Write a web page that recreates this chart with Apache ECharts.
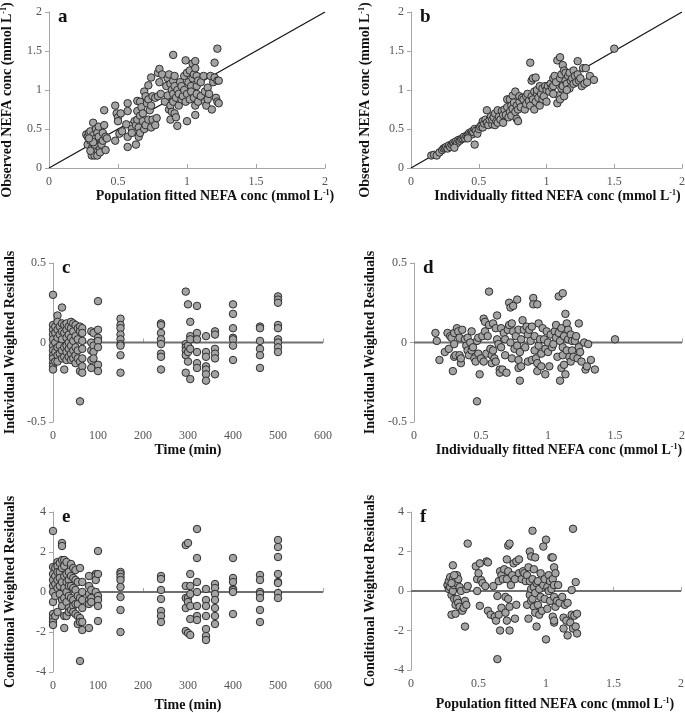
<!DOCTYPE html>
<html><head><meta charset="utf-8">
<script src="https://cdn.jsdelivr.net/npm/echarts@6/dist/echarts.min.js"></script>
<style>html,body{margin:0;padding:0;background:#fff}#c{width:685px;height:713px}</style>
</head><body><div id="c"></div>
<script>
// ---------- DATA ----------
const identityLine = [[0, 0], [2, 2]];

// a: population fitted vs observed NEFA
const panelA = [
[0.27,0.43],[0.28,0.40],[0.28,0.30],[0.29,0.45],[0.30,0.35],[0.30,0.47],[0.31,0.25],[0.31,0.16],[0.32,0.58],[0.32,0.42],[0.33,0.30],[0.33,0.16],[0.34,0.50],[0.34,0.38],[0.35,0.45],[0.35,0.16],[0.36,0.40],[0.36,0.53],[0.37,0.25],[0.37,0.20],[0.38,0.33],[0.38,0.30],[0.39,0.45],[0.39,0.35],[0.40,0.74],[0.40,0.55],[0.41,0.23],[0.41,0.40],[0.42,0.38],[0.30,0.22],[0.32,0.33],[0.29,0.38],
[0.48,0.80],[0.49,0.70],[0.50,0.65],[0.50,0.60],[0.51,0.44],[0.52,0.70],[0.53,0.47],[0.48,0.35],[0.56,0.56],[0.57,0.83],[0.57,0.73],[0.57,0.40],[0.57,0.27],[0.60,0.50],[0.60,0.45],
[0.62,0.60],[0.63,0.55],[0.63,0.30],[0.64,0.86],[0.64,0.73],[0.64,0.62],[0.65,0.52],[0.65,0.40],[0.66,0.85],[0.66,0.67],[0.66,0.45],[0.67,0.78],[0.68,0.70],[0.68,0.60],[0.69,0.98],[0.69,0.50],[0.70,0.92],[0.70,0.55],[0.71,0.83],[0.72,0.88],[0.72,1.06],[0.72,0.62],[0.73,0.74],[0.74,1.16],[0.74,0.80],[0.74,0.52],[0.75,0.62],[0.75,0.92],[0.77,0.90],[0.77,0.55],[0.78,0.64],[0.79,0.92],[0.79,1.22],[0.80,1.27],[0.80,1.10],[0.81,0.95],[0.82,1.20],
[0.84,0.85],[0.85,1.05],[0.86,1.15],[0.86,0.93],[0.87,0.75],[0.87,1.20],[0.88,1.08],[0.88,0.62],[0.88,0.80],[0.89,1.00],[0.89,0.72],[0.90,1.45],[0.90,1.12],[0.90,0.95],[0.90,0.85],[0.91,1.18],[0.91,0.70],[0.91,1.05],[0.92,0.65],[0.92,0.90],[0.93,1.00],[0.93,0.54],[0.94,0.80],[0.94,0.95],[0.95,1.10],[0.96,0.88],[0.96,1.05],[0.97,0.92],[0.98,1.18],[0.98,1.00],[0.99,1.38],[0.99,0.85],[1.00,0.60],[1.00,1.22],[1.00,0.95],[1.01,1.10],[1.02,0.88],[1.02,1.25],[1.03,1.05],[1.03,0.98],[1.04,1.34],[1.04,1.15],[1.05,1.20],[1.05,0.90],[1.06,1.37],[1.06,1.28],[1.06,0.80],[1.06,0.68],[1.07,1.05],[1.07,1.18],[1.07,0.95],[1.08,1.12],[1.08,0.85],[1.10,1.10],[1.10,0.92],[1.12,1.18],[1.13,0.98],[1.13,0.85],[1.14,0.80],[1.15,1.03],[1.15,0.88],[1.16,0.95],[1.17,1.18],[1.18,0.75],[1.19,1.10],[1.20,1.35],[1.20,1.16],[1.21,0.90],[1.22,1.53],[1.22,1.12],[1.22,0.85],[1.23,1.12],[1.23,0.83]
];

// b: individually fitted vs observed NEFA
const panelB = [
[0.15,0.16],[0.17,0.17],[0.19,0.16],[0.21,0.20],[0.23,0.23],[0.24,0.25],[0.25,0.26],[0.26,0.27],[0.27,0.25],[0.28,0.29],[0.29,0.27],[0.30,0.30],[0.31,0.32],[0.32,0.31],[0.33,0.34],[0.34,0.32],[0.35,0.36],[0.36,0.35],[0.37,0.37],[0.38,0.38],[0.39,0.40],[0.40,0.38],[0.41,0.41],[0.42,0.43],[0.43,0.45],[0.44,0.44],[0.45,0.43],[0.45,0.47],[0.46,0.46],[0.47,0.30],[0.47,0.50],[0.48,0.48],[0.49,0.44],[0.50,0.50],[0.32,0.26],[0.42,0.38],
[0.51,0.53],[0.52,0.55],[0.53,0.60],[0.53,0.52],[0.54,0.57],[0.55,0.62],[0.56,0.74],[0.56,0.58],[0.57,0.55],[0.58,0.62],[0.59,0.66],[0.60,0.56],[0.60,0.62],[0.61,0.65],[0.62,0.70],[0.62,0.55],[0.63,0.60],[0.64,0.74],[0.64,0.58],[0.65,0.66],[0.66,0.62],[0.67,0.73],[0.68,0.68],[0.68,0.58],[0.69,0.75],[0.70,0.68],[0.71,0.88],[0.71,0.78],[0.72,0.65],[0.73,0.88],[0.73,0.72],[0.74,0.80],[0.74,0.67],[0.75,0.93],[0.75,0.76],[0.76,0.84],[0.77,0.98],[0.77,0.72],[0.78,0.80],[0.78,0.63],[0.79,0.60],[0.79,0.75],[0.80,0.85],[0.80,0.92],
[0.81,0.78],[0.82,0.90],[0.83,0.88],[0.84,0.75],[0.85,0.92],[0.85,0.82],[0.86,0.95],[0.87,0.86],[0.88,1.35],[0.88,0.80],[0.89,0.92],[0.89,1.12],[0.90,1.15],[0.90,0.88],[0.91,0.75],[0.91,0.98],[0.92,1.16],[0.92,0.85],[0.93,0.95],[0.93,1.00],[0.94,0.90],[0.95,1.05],[0.95,0.80],[0.96,0.95],[0.97,1.02],[0.97,0.88],[0.98,0.92],[0.99,1.05],[1.00,0.85],[1.00,1.00],[1.01,1.05],[1.02,0.98],[1.03,1.08],[1.04,1.03],[1.05,1.05],[1.05,1.15],
[1.06,1.18],[1.07,1.10],[1.08,1.38],[1.08,0.83],[1.09,0.93],[1.10,1.42],[1.10,1.15],[1.10,0.88],[1.11,1.02],[1.11,1.20],[1.12,1.05],[1.12,1.32],[1.13,1.25],[1.13,0.92],[1.14,1.12],[1.14,1.22],[1.15,1.08],[1.16,1.18],[1.17,1.02],[1.17,1.22],[1.18,1.12],[1.19,1.15],[1.20,1.08],[1.20,1.25],[1.21,1.18],[1.22,1.10],[1.23,1.37],[1.23,1.20],[1.24,1.12],[1.25,1.15],[1.26,1.05],[1.27,1.28],[1.28,1.08],[1.29,1.28],[1.30,1.10],[1.32,1.18],[1.35,1.13],[1.50,1.53],[1.05,0.95],[1.15,1.00]
];

// c: time vs individual weighted residuals
const panelC = [
[0,0.30],[0,0.11],[0,0.08],[0,0.05],[0,0.02],[0,-0.02],[0,-0.05],[0,-0.08],[0,-0.10],[0,-0.13],[0,-0.15],[0,-0.17],
[5,0.10],[5,0.06],[5,0.00],[5,-0.06],[5,-0.12],
[10,0.17],[10,0.13],[10,0.08],[10,0.03],[10,-0.03],[10,-0.08],[10,-0.12],
[15,0.10],[15,0.05],[15,-0.02],[15,-0.07],
[20,0.22],[20,0.12],[20,0.07],[20,0.02],[20,-0.05],[20,-0.10],
[25,0.11],[25,0.06],[25,-0.03],[25,-0.09],[25,-0.17],
[30,0.12],[30,0.08],[30,0.03],[30,-0.02],[30,-0.06],[30,-0.11],
[35,0.10],[35,0.05],[35,0.00],[35,-0.04],[35,-0.09],
[40,0.13],[40,0.09],[40,0.03],[40,-0.02],[40,-0.07],[40,-0.11],
[45,0.12],[45,0.07],[45,0.01],[45,-0.05],[45,-0.10],
[50,0.11],[50,0.04],[50,-0.03],[50,-0.08],[50,-0.13],
[55,0.09],[55,0.02],[55,-0.05],[55,-0.10],
[60,0.10],[60,0.07],[60,-0.12],[60,-0.18],[60,-0.37],
[65,0.09],[65,0.06],[65,0.01],[65,-0.04],[65,-0.10],[65,-0.15],[65,-0.19],
[85,0.07],[85,0.00],[85,-0.05],[85,-0.11],[85,-0.16],
[90,0.06],[90,-0.02],[90,-0.06],[90,-0.10],
[100,0.26],[100,0.08],[100,0.03],[100,0.01],[100,-0.03],[100,-0.14],[100,-0.18],
[150,0.15],[150,0.11],[150,0.09],[150,0.05],[150,0.02],[150,-0.01],[150,-0.02],[150,-0.08],[150,-0.19],
[240,0.12],[240,0.11],[240,0.06],[240,0.02],[240,-0.01],[240,-0.07],[240,-0.09],[240,-0.17],
[295,0.32],[295,-0.01],[295,-0.03],[295,-0.05],[295,-0.08],[295,-0.19],
[300,0.24],[300,-0.02],[300,-0.06],[300,-0.12],
[305,0.13],[305,0.04],[305,0.02],[305,-0.04],[305,-0.23],
[320,0.23],[320,0.06],[320,0.02],[320,-0.06],[320,-0.13],[320,-0.16],
[340,0.04],[340,-0.06],[340,-0.09],[340,-0.15],[340,-0.17],[340,-0.20],[340,-0.24],
[360,0.07],[360,0.05],[360,-0.04],[360,-0.07],[360,-0.10],[360,-0.20],
[400,0.24],[400,0.18],[400,0.09],[400,0.03],[400,0.02],[400,-0.02],[400,-0.11],
[460,0.10],[460,0.09],[460,0.01],[460,-0.04],[460,-0.08],[460,-0.16],
[500,0.29],[500,0.27],[500,0.25],[500,0.11],[500,0.09],[500,0.02],[500,0.00],[500,-0.03],[500,-0.06]
];

// d: individually fitted vs individual weighted residuals
const panelD = [
[0.16,0.06],[0.17,0.01],[0.19,-0.11],[0.23,-0.06],[0.25,0.06],[0.26,-0.04],[0.27,0.04],[0.28,0.03],[0.29,-0.18],[0.30,0.06],[0.30,-0.01],[0.30,-0.09],[0.31,-0.08],[0.32,0.09],[0.33,0.07],[0.34,0.03],[0.34,-0.08],[0.35,-0.13],[0.35,-0.10],[0.36,0.08],[0.38,0.02],[0.39,-0.02],[0.40,0.03],[0.40,-0.05],[0.41,-0.08],[0.42,0.00],[0.43,0.07],[0.43,-0.05],[0.44,-0.03],[0.45,-0.10],[0.46,-0.12],[0.47,-0.37],[0.47,0.01],[0.48,0.03],[0.48,-0.07],[0.49,-0.20],[0.50,-0.10],
[0.51,0.04],[0.52,0.15],[0.52,-0.12],[0.53,0.13],[0.53,0.07],[0.54,-0.07],[0.55,0.04],[0.56,0.32],[0.56,0.11],[0.57,-0.04],[0.58,-0.08],[0.58,-0.13],[0.59,0.12],[0.59,-0.05],[0.60,-0.10],[0.61,0.09],[0.61,-0.12],[0.62,0.17],[0.62,0.02],[0.63,-0.01],[0.64,-0.17],[0.64,-0.19],[0.65,0.09],[0.65,-0.03],[0.66,-0.17],[0.67,0.06],[0.68,0.02],[0.68,-0.08],[0.69,-0.19],[0.70,0.08],
[0.71,0.11],[0.71,0.25],[0.72,0.22],[0.72,0.00],[0.73,0.12],[0.73,-0.10],[0.74,0.07],[0.74,0.23],[0.75,-0.04],[0.76,0.04],[0.77,0.27],[0.77,-0.02],[0.78,0.08],[0.78,-0.11],[0.78,-0.16],[0.79,-0.06],[0.79,-0.24],[0.80,-0.15],[0.80,0.02],[0.81,0.14],[0.82,0.08],[0.83,-0.03],[0.84,0.10],[0.85,0.05],[0.85,-0.12],[0.86,0.08],[0.87,0.01],[0.88,0.10],[0.88,-0.11],[0.89,0.28],[0.89,0.24],[0.90,0.04],[0.90,-0.05],
[0.91,-0.10],[0.92,0.24],[0.92,-0.13],[0.92,-0.18],[0.93,0.12],[0.93,-0.02],[0.94,0.02],[0.95,-0.07],[0.95,-0.15],[0.96,0.09],[0.97,0.02],[0.98,-0.20],[0.98,-0.04],[0.99,0.07],[1.00,0.00],[1.00,-0.06],[1.01,-0.15],[1.02,0.05],[1.03,-0.03],[1.04,-0.01],[1.05,0.07],[1.06,0.11],[1.06,0.03],[1.07,-0.09],[1.08,0.29],[1.08,0.06],[1.09,-0.24],[1.09,0.01],[1.10,-0.16],[1.10,0.09],
[1.11,0.31],[1.11,-0.03],[1.11,-0.08],[1.12,0.04],[1.12,-0.14],[1.13,-0.20],[1.13,0.18],[1.14,0.12],[1.14,-0.05],[1.15,0.08],[1.15,0.02],[1.16,-0.09],[1.17,0.05],[1.17,-0.12],[1.18,-0.05],[1.18,0.01],[1.19,-0.09],[1.20,0.01],[1.21,0.04],[1.22,-0.10],[1.23,0.12],[1.23,-0.03],[1.24,-0.06],[1.25,-0.12],[1.27,0.00],[1.28,-0.17],[1.29,-0.15],[1.30,-0.01],[1.32,-0.11],[1.35,-0.17],[1.50,0.02]
];

// e: time vs conditional weighted residuals
const panelE = [
[0,3.05],[0,1.25],[0,0.9],[0,0.6],[0,0.3],[0,0.0],[0,-0.5],[0,-1.1],[0,-1.3],[0,-1.5],[0,-1.65],
[5,1.2],[5,0.8],[5,0.4],[5,-0.2],[5,-1.2],
[10,1.5],[10,1.3],[10,1.0],[10,0.6],[10,0.2],[10,-1.0],
[15,1.45],[15,1.0],[15,0.7],[15,0.3],[15,-0.1],
[20,2.45],[20,2.3],[20,1.6],[20,1.2],[20,0.5],[20,-0.4],[20,-0.7],
[25,1.6],[25,1.3],[25,0.8],[25,0.2],[25,-0.3],[25,-1.2],[25,-1.8],
[30,1.5],[30,0.9],[30,0.5],[30,0.0],[30,-0.5],[30,-1.2],
[35,1.0],[35,0.6],[35,0.3],[35,-0.2],[35,-0.8],[35,-1.0],
[40,1.4],[40,0.8],[40,0.3],[40,-0.3],[40,-0.9],
[45,1.2],[45,0.7],[45,0.2],[45,-0.4],[45,-0.7],[45,-1.0],
[50,1.1],[50,0.6],[50,0.1],[50,-0.6],[50,-1.1],
[55,0.5],[55,-0.2],[55,-0.6],[55,-1.2],[55,-1.6],
[60,1.2],[60,-0.3],[60,-1.3],[60,-1.5],[60,-3.45],
[65,0.5],[65,0.0],[65,-0.4],[65,-0.8],[65,-1.5],[65,-1.9],
[80,0.8],[80,0.3],[80,-0.1],[80,-0.4],[80,-0.6],[80,-1.8],
[85,0.1],[85,-0.3],[85,-0.5],
[95,0.9],[95,0.8],[95,0.6],[95,0.0],
[100,2.05],[100,0.9],[100,-0.2],[100,-0.4],[100,-0.7],[100,-1.45],
[150,1.0],[150,0.9],[150,0.75],[150,0.6],[150,0.25],[150,-0.25],[150,-0.9],[150,-2.0],
[240,0.8],[240,0.65],[240,0.1],[240,-0.35],[240,-0.95],[240,-1.2],[240,-1.5],
[295,2.35],[295,0.3],[295,-0.3],[295,-0.8],[295,-1.95],
[300,2.45],[300,-0.3],[300,-0.5],[300,-2.05],
[305,0.9],[305,0.3],[305,-0.1],[305,-0.7],[305,-1.35],[305,-2.15],
[320,3.15],[320,1.7],[320,0.5],[320,0.0],[320,-0.7],[320,-1.2],[320,-1.4],
[340,0.15],[340,-0.4],[340,-0.7],[340,-1.2],[340,-1.85],[340,-2.2],[340,-2.4],
[360,0.4],[360,0.2],[360,-0.1],[360,-0.4],[360,-0.8],[360,-1.2],[360,-1.6],
[400,1.7],[400,0.7],[400,0.5],[400,0.15],[400,0.1],[400,0.0],[400,-1.1],
[460,0.85],[460,0.6],[460,0.0],[460,-0.1],[460,-0.3],[460,-0.9],[460,-1.5],
[500,2.6],[500,2.25],[500,1.75],[500,0.9],[500,0.5],[500,0.45],[500,-0.05],[500,-0.3]
];

// f: population fitted vs conditional weighted residuals
const panelF = [
[0.27,0.3],[0.28,0.5],[0.28,0.1],[0.29,0.7],[0.29,0.2],[0.30,-0.2],[0.30,-1.2],[0.31,0.6],[0.31,0.0],[0.31,1.3],[0.32,-0.4],[0.32,0.3],[0.33,-1.15],[0.33,-0.7],[0.34,0.4],[0.34,0.8],[0.34,-0.4],[0.35,0.6],[0.35,-0.6],[0.36,0.2],[0.36,-0.8],[0.37,0.0],[0.38,-1.0],[0.39,-0.85],[0.40,-1.8],[0.40,-0.5],[0.41,0.1],[0.41,-0.7],[0.42,2.4],[0.42,0.25],[0.30,0.4],[0.32,0.8],
[0.48,1.25],[0.49,0.0],[0.49,0.6],[0.50,0.9],[0.51,1.4],[0.51,-0.75],[0.52,0.55],[0.53,0.4],[0.55,0.25],[0.56,1.5],[0.57,1.45],[0.57,-1.0],[0.59,-1.2],[0.61,0.25],[0.62,-1.3],
[0.63,-1.5],[0.64,-3.45],[0.64,-0.25],[0.65,0.5],[0.65,-1.2],[0.66,1.0],[0.66,-2.0],[0.67,0.8],[0.67,-0.85],[0.68,0.6],[0.69,1.1],[0.70,-0.3],[0.70,-1.1],[0.71,1.6],[0.71,0.6],[0.71,-1.5],[0.72,2.3],[0.72,1.0],[0.72,-0.4],[0.73,2.4],[0.73,-0.8],[0.73,-2.0],[0.74,0.3],[0.75,0.8],[0.76,1.4],[0.77,0.6],[0.77,-1.4],[0.78,1.5],[0.78,-0.7],[0.80,1.6],[0.80,0.9],
[0.82,0.6],[0.83,1.0],[0.84,0.9],[0.85,0.5],[0.86,-0.7],[0.86,0.8],[0.87,1.2],[0.87,-1.4],[0.88,2.0],[0.88,-0.2],[0.88,0.5],[0.89,0.1],[0.89,-0.5],[0.89,1.75],[0.90,0.6],[0.90,-0.4],[0.90,3.05],[0.91,0.2],[0.91,-0.8],[0.91,1.1],[0.92,-0.1],[0.92,-1.1],[0.92,1.7],[0.93,0.4],[0.93,-1.8],[0.94,-0.7],[0.94,0.5],[0.95,-1.2],[0.95,0.1],[0.96,0.9],[0.96,-0.3],[0.97,-1.0],[0.98,0.3],[0.98,2.25],[0.99,-0.4],[0.99,0.6],[1.00,2.6],[1.00,-2.45],[1.01,0.2],[1.01,-0.9],[1.02,0.8],[1.02,0.0],
[1.03,0.5],[1.03,-0.5],[1.04,0.1],[1.04,1.7],[1.05,-1.3],[1.05,0.6],[1.05,1.7],[1.06,-1.6],[1.06,-1.5],[1.06,1.2],[1.06,0.3],[1.06,-0.3],[1.07,0.9],[1.07,-0.8],[1.08,-0.5],[1.09,0.3],[1.10,-0.6],[1.12,-0.3],[1.13,-1.35],[1.13,-1.9],[1.14,-0.7],[1.15,-1.5],[1.16,-2.25],[1.16,-0.6],[1.18,-1.6],[1.19,0.05],[1.19,-1.2],[1.20,-1.9],[1.20,3.15],[1.21,-1.25],[1.22,0.45],[1.22,-1.8],[1.23,-2.15],[1.23,-1.15]
];

const panelLetters = ['a', 'b', 'c', 'd', 'e', 'f'];
const xTitles = ['Population fitted NEFA conc (mmol L', 'Individually fitted NEFA conc (mmol L', 'Time (min)', 'Individually fitted NEFA conc (mmol L', 'Time (min)', 'Population fitted NEFA conc (mmol L'];
const yTitles = ['Observed NEFA conc (mmol L', 'Observed NEFA conc (mmol L', 'Individual Weighted Residuals', 'Individual Weighted Residuals', 'Conditional Weighted Residuals', 'Conditional Weighted Residuals'];
const xRanges = [[0, 2, 0.5], [0, 2, 0.5], [0, 600, 100], [0, 2, 0.5], [0, 600, 100], [0, 2, 0.5]];
const yRanges = [[0, 2, 0.5], [0, 2, 0.5], [-0.5, 0.5, 0.5], [-0.5, 0.5, 0.5], [-4, 4, 2], [-4, 4, 2]];

// ---------- LAYOUT / STYLE ----------
const SERIF = '"Liberation Serif", "Times New Roman", serif';
const grids = [
  {left: 49, top: 12, width: 276, height: 156},
  {left: 411, top: 12, width: 271, height: 156},
  {left: 53, top: 263, width: 270, height: 159},
  {left: 414, top: 263, width: 268, height: 159},
  {left: 53, top: 512, width: 270, height: 160},
  {left: 411, top: 512, width: 270, height: 158}
];
const xNameGaps = [19, 19, 17, 17, 26, 27];
const xNameShift = [56, 22, 0, 22, 0, 18];
const yNameGaps = [34, 38, 36, 37, 36, 34];
const yNameShift = [20, 20, 0, 0, 0, 0];

function titleText(t) {
  return t.endsWith('L') ? '{t|' + t + '}{s|-1}{t|)}' : '{t|' + t + '}';
}
const richTitle = {
  t: {fontFamily: SERIF, fontWeight: 'bold', fontSize: 14, color: '#111'},
  s: {fontFamily: SERIF, fontWeight: 'bold', fontSize: 8, color: '#111', padding: [0, 0, 7, 0]}
};
const axisLine = {show: true, lineStyle: {color: '#a6a6a6', width: 1}};
const axisLabel = {fontFamily: SERIF, fontSize: 12, color: '#555'};

const xAxis = [], yAxis = [], series = [], graphic = [];
const allData = [panelA, panelB, panelC, panelD, panelE, panelF];

grids.forEach((g, i) => {
  g.outerBoundsMode = 'none';
  g.containLabel = false;
  xAxis.push({
    type: 'value', gridIndex: i, min: xRanges[i][0], max: xRanges[i][1], interval: xRanges[i][2],
    axisLine: axisLine, splitLine: {show: false},
    axisTick: {show: true, inside: true, length: 4, lineStyle: {color: '#a6a6a6'}},
    axisLabel: Object.assign({margin: 8}, axisLabel),
    name: titleText(xTitles[i]), nameLocation: 'middle', nameGap: xNameGaps[i],
    nameTextStyle: {rich: richTitle, padding: [0, 0, 0, xNameShift[i]]}
  });
  yAxis.push({
    type: 'value', gridIndex: i, min: yRanges[i][0], max: yRanges[i][1], interval: yRanges[i][2],
    axisLine: axisLine, splitLine: {show: false},
    axisTick: {show: true, inside: false, length: 4, lineStyle: {color: '#a6a6a6'}},
    axisLabel: Object.assign({margin: 7}, axisLabel),
    name: titleText(yTitles[i]), nameLocation: 'middle', nameGap: yNameGaps[i], nameRotate: 90,
    nameTextStyle: {rich: richTitle, padding: [0, yNameShift[i], 0, 0]}
  });
  if (i < 2) {
    series.push({type: 'line', xAxisIndex: i, yAxisIndex: i, data: identityLine, symbol: 'none',
      lineStyle: {color: '#111', width: 1.2}, z: 1, silent: true});
  } else {
    series.push({type: 'line', xAxisIndex: i, yAxisIndex: i, data: [[xRanges[i][0], 0], [xRanges[i][1], 0]],
      symbol: 'none', lineStyle: {color: '#707070', width: 2}, z: 1, silent: true});
  }
  series.push({type: 'scatter', xAxisIndex: i, yAxisIndex: i, data: allData[i], symbol: 'circle', symbolSize: 7.5,
    itemStyle: {color: '#a3a3a3', borderColor: '#2e2e2e', borderWidth: 1, opacity: 1}, z: 2});
  graphic.push({type: 'text', left: g.left + 9, top: g.top - 4, style: {text: panelLetters[i],
    font: 'bold 19px ' + SERIF, fill: '#111'}});
});

const chart = echarts.init(document.getElementById('c'), null, {renderer: 'canvas'});
chart.setOption({
  animation: false,
  backgroundColor: '#fff',
  grid: grids, xAxis: xAxis, yAxis: yAxis, series: series, graphic: graphic
});
</script></body></html>
